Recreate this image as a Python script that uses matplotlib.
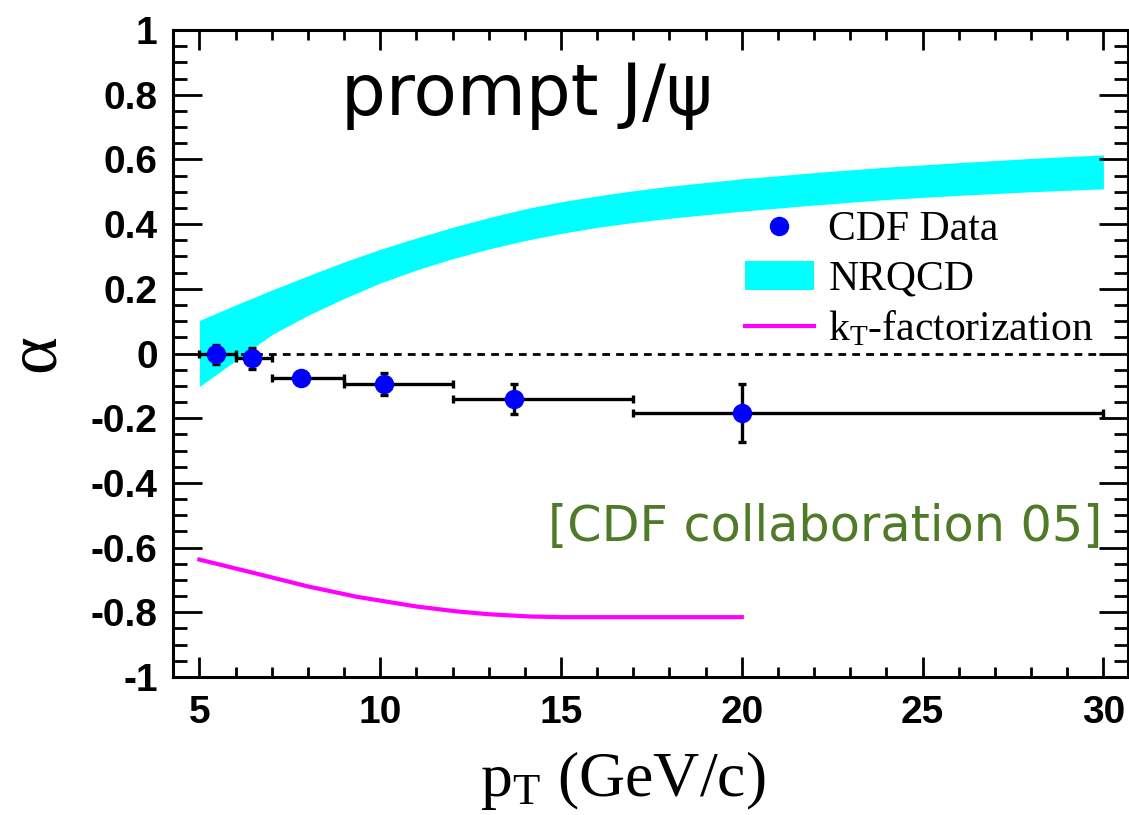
import numpy as np
import matplotlib
matplotlib.use('Agg')
import matplotlib.pyplot as plt
from matplotlib.ticker import MultipleLocator
from matplotlib.patches import Patch
from matplotlib.lines import Line2D

# CDF prompt J/psi polarization data
pt = [5.45, 6.45, 7.8, 10.1, 13.7, 20.0]
pt_lo = [5, 6, 7, 9, 12, 17]
pt_hi = [6, 7, 9, 12, 17, 30]
alpha = [-0.003, -0.015, -0.077, -0.094, -0.14, -0.185]
alpha_err = [0.028, 0.032, 0.012, 0.033, 0.046, 0.09]

# NRQCD band (upper / lower edge)
band_pt = [5, 6, 7, 8, 9, 10, 11, 12, 13, 14, 15, 16, 17, 18, 20, 22, 24, 26, 28, 30]
band_hi = [0.102, 0.15, 0.196, 0.24, 0.283, 0.322, 0.357, 0.39, 0.42, 0.447, 0.469, 0.487,
           0.503, 0.517, 0.54, 0.559, 0.576, 0.59, 0.603, 0.614]
band_lo = [-0.102, -0.022, 0.058, 0.118, 0.17, 0.218, 0.258, 0.293, 0.323, 0.349, 0.371, 0.39,
           0.405, 0.418, 0.44, 0.459, 0.476, 0.489, 0.5, 0.509]

# kT-factorization curve
kt_pt = [5, 6.6, 8, 9.35, 11, 12.1, 13, 14.15, 15, 17, 20]
kt_alpha = [-0.637, -0.681, -0.72, -0.752, -0.782, -0.797, -0.806, -0.813, -0.815, -0.815, -0.815]

plt.rcParams['mathtext.fontset'] = 'custom'
plt.rcParams['mathtext.rm'] = 'Liberation Serif'
plt.rcParams['mathtext.it'] = 'Liberation Serif:italic'

fig = plt.figure(figsize=(11.29, 8.15), dpi=100)
ax = fig.add_axes([173 / 1129, 1 - 677 / 815, 955 / 1129, 647 / 815])

ax.fill_between(band_pt, band_lo, band_hi, color='#00ffff', lw=0, zorder=1)
ax.plot(kt_pt, kt_alpha, color='#ff00ff', lw=3.0, zorder=2)
ax.plot([5, 30], [0, 0], color='black', lw=2.0, ls=(0, (2.8, 2.2)), zorder=2)

xerr = [np.array(pt) - np.array(pt_lo), np.array(pt_hi) - np.array(pt)]
ax.errorbar(pt, alpha, xerr=xerr, yerr=alpha_err, fmt='none', ecolor='black',
            elinewidth=2.4, capsize=3.2, capthick=2.4, zorder=3)
ax.plot(pt, alpha, 'o', color='#0000ff', ms=13, zorder=4)

ax.set_xlim(4.27, 30.68)
ax.set_ylim(-1, 1)
ax.xaxis.set_major_locator(MultipleLocator(5))
ax.xaxis.set_minor_locator(MultipleLocator(1))
ax.yaxis.set_major_locator(MultipleLocator(0.2))
ax.yaxis.set_minor_locator(MultipleLocator(0.05))
ax.tick_params(axis='both', which='both', direction='in', top=True, right=True, width=2.0)
ax.tick_params(axis='x', which='major', length=14.5, pad=13)
ax.tick_params(axis='x', which='minor', length=7.2)
ax.tick_params(axis='y', which='major', length=21, pad=11)
ax.tick_params(axis='y', which='minor', length=10)
for s in ax.spines.values():
    s.set_linewidth(2.2)

ax.set_yticks([-1, -0.8, -0.6, -0.4, -0.2, 0, 0.2, 0.4, 0.6, 0.8, 1])
ax.set_yticklabels(['-1', '-0.8', '-0.6', '-0.4', '-0.2', '0', '0.2', '0.4', '0.6', '0.8', '1'])
for lab in ax.get_xticklabels() + ax.get_yticklabels():
    lab.set_fontfamily('Liberation Sans')
    lab.set_fontweight('bold')
    lab.set_fontsize(28)

fig.text(623 / 1129, 1 - 780 / 815, r'p$_{\rm T}$ (GeV/c)', family='Liberation Serif',
         fontsize=46, ha='center', va='center')
fig.text(36 / 1129, 1 - 353 / 815, 'α', family='Liberation Serif', fontsize=52,
         rotation=90, ha='center', va='center')

ax.text(0.176, 0.869, 'prompt J/ψ', transform=ax.transAxes, family='DejaVu Sans',
        fontsize=51, ha='left', va='baseline')
ax.text(0.973, 0.21, '[CDF collaboration 05]', transform=ax.transAxes,
        family='DejaVu Sans', fontsize=35.5, color='#4f7a28', ha='right', va='baseline')

handles = [Line2D([], [], ls='none', marker='o', color='#0000ff', ms=13),
           Patch(facecolor='#00ffff', edgecolor='none'),
           Line2D([], [], color='#ff00ff', lw=3.0)]
labels = ['CDF Data', 'NRQCD', r'k$_{\rm T}$-factorization']
ax.legend(handles, labels, loc='upper left', bbox_to_anchor=((745 - 173) / 955, (677 - 211) / 647),
          frameon=False, prop={'family': 'Liberation Serif', 'size': 30}, borderpad=0,
          borderaxespad=0, handlelength=1.65, handletextpad=0.35, labelspacing=0.26)

fig.savefig('out.png', dpi=100)
